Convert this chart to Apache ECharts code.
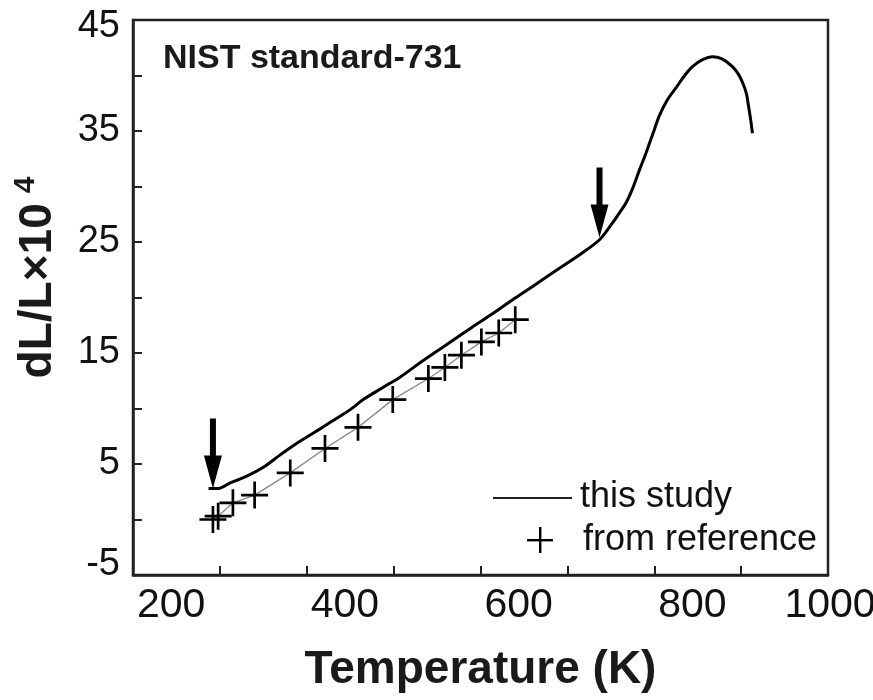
<!DOCTYPE html>
<html><head><meta charset="utf-8">
<script src="https://cdn.jsdelivr.net/npm/echarts@6/dist/echarts.min.js"></script>
<style>html,body{margin:0;padding:0;background:#fff}#c{width:873px;height:700px}</style>
</head><body><div id="c"></div>
<script>
// "this study" dilatometer curve
const studyT   = [287, 298, 312, 331, 350, 369, 389, 410, 430, 450, 465, 490, 507, 530, 560, 590, 615, 637, 660, 690, 715, 737, 749, 758, 768, 776, 783, 790, 795, 800, 806, 815, 826, 835, 844, 855, 867, 878, 890, 897, 902, 906, 908, 911, 913];
const studyVal = [2.8, 2.8, 3.3, 3.9, 4.7, 5.8, 6.9, 7.9, 8.9, 9.9, 10.8, 12.0, 12.8, 14.1, 15.7, 17.3, 18.6, 19.8, 21.0, 22.6, 23.9, 25.2, 26.4, 27.4, 28.6, 30.0, 31.5, 32.9, 34.0, 35.1, 36.4, 37.8, 39.0, 40.0, 40.8, 41.4, 41.7, 41.5, 40.8, 40.1, 39.3, 38.4, 37.5, 36.0, 34.8];
// "from reference" values
const refT   = [292, 298, 315, 340, 381, 421, 459, 499, 540, 559, 578, 601, 621, 640];
const refVal = [0.0, 0.3, 1.5, 2.2, 4.2, 6.4, 8.3, 10.8, 12.7, 13.7, 14.8, 16.0, 16.8, 18.0];
// arrow annotations (tip positions)
const arrowT   = [292, 737];
const arrowVal = [2.8, 25.4];
// axis ticks
const xTicks = [200, 400, 600, 800, 1000];
const yTicks = [-5, 5, 15, 25, 35, 45];

const FONT = '"Liberation Sans", Arial, Helvetica, sans-serif';
const PLUS = 'path://M11.7,0 h2.6 v11.7 h11.7 v2.6 h-11.7 v11.7 h-2.6 v-11.7 h-11.7 v-2.6 h11.7 z';
const ARROW = 'path://M6,0 h6 v37 h6 L9,70 L0,37 h6 z';
const yMin = yTicks[0], yMax = yTicks[yTicks.length - 1];

const chart = echarts.init(document.getElementById('c'), null, {renderer: 'canvas'});
chart.setOption({
  animation: false,
  backgroundColor: '#fff',
  title: {
    text: 'NIST standard-731', left: 163, top: 42, padding: 0,
    textStyle: {fontFamily: FONT, fontSize: 34, fontWeight: 'bold', color: '#1a1a1a'}
  },
  grid: {left: 133, right: 45, top: 20, bottom: 125, outerBoundsMode: 'none', containLabel: false,
         show: true, borderColor: '#222', borderWidth: 2.5, backgroundColor: 'transparent'},
  xAxis: {
    type: 'value', min: xTicks[0], max: xTicks[xTicks.length - 1], interval: xTicks[1] - xTicks[0],
    name: 'Temperature (K)', nameLocation: 'middle', nameGap: 72,
    nameTextStyle: {fontFamily: FONT, fontSize: 46, fontWeight: 'bold', color: '#1a1a1a'},
    axisLine: {show: true, onZero: false, lineStyle: {color: '#222', width: 2.5}},
    axisTick: {show: true, inside: true, length: 9, lineStyle: {color: '#222', width: 2}},
    minorTick: {show: true, splitNumber: 2, length: 9, lineStyle: {color: '#222', width: 2}},
    splitLine: {show: false},
    axisLabel: {fontFamily: FONT, fontSize: 41, color: '#111', margin: 10, align: 'left', alignMaxLabel: 'center',
                padding: [0, 0, 0, 4], formatter: v => String(v)}
  },
  yAxis: {
    type: 'value', min: yMin, max: yMax, interval: yTicks[1] - yTicks[0],
    name: '{a|dL/L×10}{s|4}', nameLocation: 'middle', nameGap: 68,
    nameTextStyle: {
      color: '#1a1a1a', padding: [0, 0, 0, 40],
      rich: {
        a: {fontFamily: FONT, fontSize: 46, fontWeight: 'bold', color: '#1a1a1a'},
        s: {fontFamily: FONT, fontSize: 30, fontWeight: 'bold', color: '#1a1a1a', padding: [0, 0, 24, 10]}
      }
    },
    axisLine: {show: true, onZero: false, lineStyle: {color: '#222', width: 2.5}},
    axisTick: {show: true, inside: true, length: 9, lineStyle: {color: '#222', width: 2}},
    minorTick: {show: true, splitNumber: 2, length: 9, lineStyle: {color: '#222', width: 2}},
    splitLine: {show: false},
    axisLabel: {
      fontFamily: FONT, fontSize: 38, color: '#111', margin: 13,
      formatter: v => v === yMin ? '{lo|' + v + '}' : (v === yMax ? '{hi|' + v + '}' : String(v)),
      rich: {
        lo: {fontFamily: FONT, fontSize: 38, color: '#111', padding: [0, 0, 20, 0]},
        hi: {fontFamily: FONT, fontSize: 38, color: '#111', padding: [14, 0, 0, 0]}
      }
    }
  },
  series: [
    {
      name: 'from reference', type: 'line',
      data: refT.map((t, i) => [t, refVal[i]]),
      symbol: PLUS, symbolSize: 27, showSymbol: true,
      itemStyle: {color: '#000'},
      lineStyle: {color: '#8a8a8a', width: 1.3},
      z: 3
    },
    {
      name: 'this study', type: 'line',
      data: studyT.map((t, i) => [t, studyVal[i]]),
      showSymbol: false, smooth: 0.35,
      lineStyle: {color: '#000', width: 3},
      z: 4,
      markPoint: {
        symbol: ARROW, symbolSize: [18, 70], symbolOffset: [0, -35],
        itemStyle: {color: '#000'}, label: {show: false},
        data: arrowT.map((t, i) => ({coord: [t, arrowVal[i]]}))
      }
    }
  ],
  graphic: [
    {type: 'line', shape: {x1: 493, y1: 498, x2: 572, y2: 498}, style: {stroke: '#222', lineWidth: 2.2}},
    {type: 'text', style: {x: 580, y: 497, text: 'this study', font: '36px ' + FONT, fill: '#111', verticalAlign: 'middle'}},
    {type: 'rect', shape: {x: 527, y: 539, width: 26, height: 2.4}, style: {fill: '#000'}},
    {type: 'rect', shape: {x: 539, y: 527, width: 2.4, height: 26}, style: {fill: '#000'}},
    {type: 'text', style: {x: 583, y: 540, text: 'from reference', font: '36px ' + FONT, fill: '#111', verticalAlign: 'middle'}}
  ]
});
</script></body></html>
